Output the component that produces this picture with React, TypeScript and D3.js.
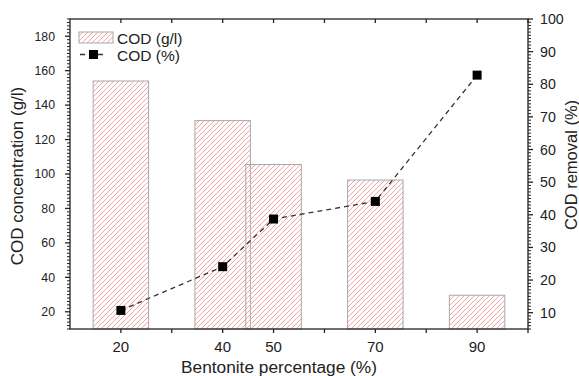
import React from "react";
import * as d3 from "d3";

const categories = [20, 40, 50, 70, 90];
const codConcentration = [154, 131, 105.5, 96.5, 29.6];
const codRemoval = [10.7, 24.1, 38.7, 44.1, 82.8];
const xTickLabels = [20, 40, 50, 70, 90];
const xTicksAll = [20, 30, 40, 50, 60, 70, 80, 90, 100];
const leftTicks = [20, 40, 60, 80, 100, 120, 140, 160, 180];
const rightTicks = [10, 20, 30, 40, 50, 60, 70, 80, 90, 100];

const W = 579, H = 376;
const L = 70, R = 528, T = 19, B = 329;
const FONT = "'Liberation Sans', Arial, sans-serif";

export default function App() {
  const x = d3.scaleLinear().domain([10, 100]).range([L, R]);
  const yL = d3.scaleLinear().domain([10, 190]).range([B, T]);
  const yR = d3.scaleLinear().domain([5, 100]).range([B, T]);
  const barW = x(20.9) - x(10);
  const line = d3.line<number>().x((_, i) => x(categories[i])).y(d => yR(d));

  const leftMinor = d3.range(10, 191, 2).filter(v => v % 20 !== 0);
  const rightMinor = d3.range(5, 101, 1).filter(v => v % 10 !== 0);

  return (
    <svg width={W} height={H} style={{ position: "absolute", left: 0, top: 0, background: "#fff" }}>
      <defs>
        <pattern id="hatch" patternUnits="userSpaceOnUse" width={5} height={5}>
          <line x1={-1} y1={6} x2={6} y2={-1} stroke="#f5a3a3" strokeWidth={1} />
          <line x1={-6} y1={6} x2={1} y2={-1} stroke="#f5a3a3" strokeWidth={1} />
          <line x1={4} y1={6} x2={11} y2={-1} stroke="#f5a3a3" strokeWidth={1} />
        </pattern>
      </defs>
      {/* bars */}
      {categories.map((c, i) => (
        <rect key={"b" + i} x={x(c) - barW / 2} y={yL(codConcentration[i])}
          width={barW} height={B - yL(codConcentration[i])}
          fill="url(#hatch)" stroke="#a8a8a8" strokeWidth={1} />
      ))}
      {/* line */}
      <path d={line(codRemoval) || ""} fill="none" stroke="#333" strokeWidth={1.3} strokeDasharray="5,4" />
      {codRemoval.map((v, i) => (
        <rect key={"m" + i} x={x(categories[i]) - 4.5} y={yR(v) - 4.5} width={9} height={9} fill="#000" />
      ))}
      {/* frame */}
      <rect x={L} y={T} width={R - L} height={B - T} fill="none" stroke="#222" strokeWidth={1.3} />
      {/* bottom ticks */}
      {xTicksAll.map(v => (
        <g key={"xt" + v}>
          <line x1={x(v)} x2={x(v)} y1={B} y2={B + 4} stroke="#222" strokeWidth={1.3} />
          <line x1={x(v)} x2={x(v)} y1={T} y2={T + 4} stroke="#222" strokeWidth={1.3} />
        </g>
      ))}
      {xTickLabels.map(v => (
        <text key={"xl" + v} x={x(v)} y={352} textAnchor="middle" fontFamily={FONT} fontSize={15} fill="#222">{v}</text>
      ))}
      <text x={279} y={373} textAnchor="middle" fontFamily={FONT} fontSize={17.3} fill="#222">Bentonite percentage (%)</text>
      {/* left axis */}
      {leftTicks.map(v => (
        <g key={"lt" + v}>
          <line x1={L - 5} x2={L} y1={yL(v)} y2={yL(v)} stroke="#222" strokeWidth={1.3} />
          <text x={L - 15} y={yL(v) + 4.3} textAnchor="end" fontFamily={FONT} fontSize={12.3} fill="#222">{v}</text>
        </g>
      ))}
      {leftMinor.map(v => (
        <line key={"lm" + v} x1={L - 3} x2={L} y1={yL(v)} y2={yL(v)} stroke="#222" strokeWidth={1} />
      ))}
      <text transform={`translate(23,176) rotate(-90)`} textAnchor="middle" fontFamily={FONT} fontSize={17} fill="#222">COD concentration (g/l)</text>
      {/* right axis */}
      {rightTicks.map(v => (
        <g key={"rt" + v}>
          <line x1={R} x2={R + 5} y1={yR(v)} y2={yR(v)} stroke="#222" strokeWidth={1.3} />
          <text x={R + 12} y={yR(v) + 5} textAnchor="start" fontFamily={FONT} fontSize={14.2} fill="#222">{v}</text>
        </g>
      ))}
      {rightMinor.map(v => (
        <line key={"rm" + v} x1={R} x2={R + 3} y1={yR(v)} y2={yR(v)} stroke="#222" strokeWidth={1} />
      ))}
      <text transform={`translate(577,165) rotate(-90)`} textAnchor="middle" fontFamily={FONT} fontSize={16.5} fill="#222">COD removal (%)</text>
      {/* legend */}
      <rect x={79} y={32} width={34} height={11} fill="url(#hatch)" stroke="#a8a8a8" strokeWidth={1} />
      <text x={117} y={43.5} fontFamily={FONT} fontSize={15.5} fill="#222">COD (g/l)</text>
      <line x1={79} x2={107} y1={54.5} y2={54.5} stroke="#333" strokeWidth={1.3} strokeDasharray="5,4" strokeDashoffset={-1} />
      <rect x={89} y={50} width={9} height={9} fill="#000" />
      <text x={117} y={60.5} fontFamily={FONT} fontSize={15.5} fill="#222">COD (%)</text>
    </svg>
  );
}
